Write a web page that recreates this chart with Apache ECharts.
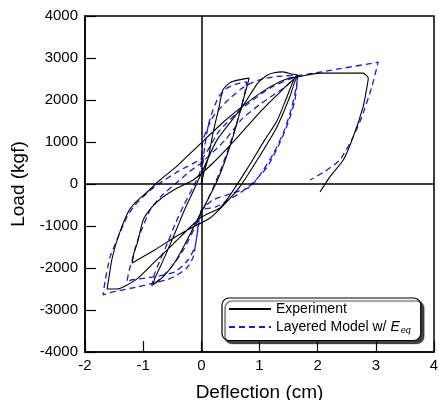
<!DOCTYPE html>
<html><head><meta charset="utf-8">
<script src="https://cdn.jsdelivr.net/npm/echarts@6/dist/echarts.min.js"></script>
<style>html,body{margin:0;padding:0;background:#fff}#c{width:439px;height:400px}</style>
</head><body><div id="c"></div>
<script>
const xTicks = [-2, -1, 0, 1, 2, 3, 4];
const yTicks = [-4000, -3000, -2000, -1000, 0, 1000, 2000, 3000, 4000];
const seriesNames = ['Experiment', 'Layered Model w/ Eeq'];

const expDeflection = [
  0, 0.05, 0.12, 0.2, 0.3, 0.37, 0.5, 0.65, 0.82,
  0.8, 0.72, 0.66, 0.55, 0.42, 0.28, 0.12,
  -0.05, -0.25, -0.45, -0.65, -0.83,
  -0.8, -0.65, -0.43, -0.3, -0.15, 0,
  0.27, 0.7, 0.97, 1.13, 1.25, 1.39, 1.55, 1.66,
  1.61, 1.52, 1.3, 0.96, 0.66, 0.4, 0.15, -0.15, -0.45, -0.8, -1.19,
  -1.16, -1.1, -1.0, -0.85, -0.66, -0.42, -0.14, 0.2,
  0.58, 1.04, 1.39, 1.55, 1.66,
  1.61, 1.45, 1.3, 1.09, 0.85, 0.63, 0.45, 0.32, -0.02, -0.5, -0.8, -1.09, -1.3, -1.45, -1.62,
  -1.58, -1.54, -1.43, -1.26, -1.14, -0.93, -0.71, -0.4, 0,
  0.4, 0.8, 1.2, 1.5, 1.69, 2.04, 2.26, 2.78, 2.87,
  2.84, 2.78, 2.61, 2.44, 2.21, 2.04
];
const expLoad = [
  0, 300, 620, 1210, 1800, 2240, 2420, 2480, 2520,
  2400, 2000, 1690, 1150, 600, 100, -350,
  -800, -1350, -1850, -2200, -2400,
  -2250, -1800, -1090, -650, -200, 250,
  1050, 1830, 2400, 2590, 2650, 2670, 2620, 2590,
  2450, 2070, 1360, 570, -70, -480, -810, -1030, -1260, -1570, -1880,
  -1650, -1400, -860, -550, -310, -100, 95, 500,
  1050, 1760, 2240, 2450, 2590,
  2550, 2000, 1500, 1050, 500, 20, -350, -570, -810, -1450, -1850, -2240, -2420, -2500, -2500,
  -2150, -1810, -1260, -670, -450, -190, 95, 450, 980,
  1500, 1950, 2330, 2520, 2560, 2640, 2640, 2640, 2520,
  2250, 1830, 1120, 570, 170, -190
];

const modelDeflection = [
  0, 0.02, 0.06, 0.12, 0.2, 0.3, 0.44, 0.6, 0.78,
  0.76, 0.7, 0.6, 0.48, 0.35, 0.2, 0.05,
  -0.1, -0.3, -0.5, -0.7, -0.85,
  -0.82, -0.72, -0.58, -0.45, -0.3, -0.15, -0.02,
  0.03, 0.2, 0.46, 0.7, 0.97, 1.3, 1.66,
  1.61, 1.49, 1.35, 1.13, 0.81, 0.53, 0.24, 0.01,
  -0.06, -0.11, -0.23, -0.45, -0.8, -1.19, -1.28,
  -1.24, -1.19, -1.12, -1.05, -0.88, -0.7, -0.45, -0.2, 0.0,
  0.41, 0.7, 1.04, 1.44, 1.66,
  1.63, 1.55, 1.42, 1.25, 1.05, 0.84, 0.55, 0.2, -0.02,
  -0.07, -0.14, -0.25, -0.42, -0.59, -0.83, -1.1, -1.52, -1.69,
  -1.65, -1.57, -1.45, -1.28, -1.14, -0.93, -0.76, -0.4, 0.03,
  0.3, 0.7, 1.2, 1.66, 2.07, 3.04,
  2.93, 2.76, 2.61, 2.38, 2.1, 1.87
];
const modelLoad = [
  0, 400, 900, 1400, 1760, 2080, 2280, 2380, 2430,
  2250, 1900, 1400, 900, 400, -100, -550,
  -1000, -1550, -1950, -2250, -2430,
  -2200, -1850, -1400, -950, -500, -100, 300,
  1050, 1600, 2000, 2280, 2470, 2560, 2590,
  2000, 1450, 980, 400, -70, -330, -550, -620,
  -1090, -1500, -1810, -2090, -2210, -2280, -2330,
  -2050, -1810, -1450, -1170, -620, -300, 0, 300, 500,
  1050, 1550, 1930, 2310, 2590,
  2300, 1800, 1250, 750, 300, -70, -210, -380, -670,
  -1170, -1740, -2000, -2170, -2280, -2360, -2450, -2570, -2640,
  -2280, -1740, -1330, -790, -500, -210, -20, 300, 640,
  1250, 1800, 2300, 2570, 2670, 2900,
  2310, 1600, 1120, 570, 280, 95
];

function pairs(xs, ys) { return xs.map((x, i) => [x, ys[i]]); }

const font = 'Liberation Sans, Arial, sans-serif';
const chart = echarts.init(document.getElementById('c'), null, { renderer: 'canvas' });
chart.setOption({
  animation: false,
  backgroundColor: '#fff',
  textStyle: { fontFamily: font },
  grid: { left: 85, right: 5, top: 16, bottom: 48, show: true, borderColor: '#000', borderWidth: 1.5, backgroundColor: 'transparent', outerBoundsMode: 'none', containLabel: false },
  xAxis: {
    type: 'value', min: xTicks[0], max: xTicks[xTicks.length - 1], interval: xTicks[1] - xTicks[0],
    axisLine: { show: true, onZero: false, lineStyle: { color: '#000', width: 1.5 } },
    axisTick: { show: true, inside: true, length: 11, lineStyle: { color: '#000', width: 1.2 } },
    axisLabel: { color: '#000', fontSize: 15, margin: 6, fontFamily: font, formatter: v => String(v) },
    splitLine: { show: false },
    name: 'Deflection (cm)', nameLocation: 'middle', nameGap: 31,
    nameTextStyle: { color: '#000', fontSize: 19, fontFamily: font }
  },
  yAxis: {
    type: 'value', min: yTicks[0], max: yTicks[yTicks.length - 1], interval: yTicks[1] - yTicks[0],
    axisLine: { show: true, onZero: false, lineStyle: { color: '#000', width: 1.5 } },
    axisTick: { show: true, inside: true, length: 11, lineStyle: { color: '#000', width: 1.2 } },
    axisLabel: { color: '#000', fontSize: 15, margin: 7, fontFamily: font, formatter: v => String(v) },
    splitLine: { show: false },
    name: 'Load (kgf)', nameLocation: 'middle', nameGap: 54,
    nameTextStyle: { color: '#000', fontSize: 19, fontFamily: font }
  },
  legend: {
    orient: 'vertical', left: 222, top: 298,
    padding: [4, 10, 6, 6], itemGap: 4, itemWidth: 42, itemHeight: 15,
    backgroundColor: '#fff', borderColor: '#000', borderWidth: 1.2, borderRadius: 7,
    shadowColor: 'rgba(0,0,0,0.75)', shadowBlur: 1, shadowOffsetX: 3, shadowOffsetY: 3,
    itemStyle: { opacity: 0 },
    data: seriesNames,
    formatter: function (name) {
      return name === seriesNames[1] ? 'Layered Model w/ {e|E}{s|eq}' : name;
    },
    textStyle: {
      color: '#000', fontSize: 14, fontFamily: font,
      rich: {
        e: { fontSize: 14, fontStyle: 'italic', color: '#000', fontFamily: font },
        s: { fontSize: 9, fontStyle: 'italic', color: '#000', fontFamily: font, verticalAlign: 'bottom', padding: [6, 0, 0, 1] }
      }
    }
  },
  series: [
    {
      name: seriesNames[0], type: 'line', symbol: 'none', silent: true, smooth: 0.2,
      data: pairs(expDeflection, expLoad),
      lineStyle: { color: '#000', width: 1.1 },
      itemStyle: { color: '#000' },
      markLine: {
        silent: true, symbol: 'none', label: { show: false },
        lineStyle: { color: '#000', width: 1.5, type: 'solid' },
        data: [{ xAxis: 0 }, { yAxis: 0 }]
      },
      z: 3
    },
    {
      name: seriesNames[1], type: 'line', symbol: 'none', silent: true, smooth: 0.2,
      data: pairs(modelDeflection, modelLoad),
      lineStyle: { color: '#1a1ae0', width: 1.3, type: [6, 4] },
      itemStyle: { color: '#1a1ae0' },
      z: 2
    }
  ]
});
</script>
</body></html>
